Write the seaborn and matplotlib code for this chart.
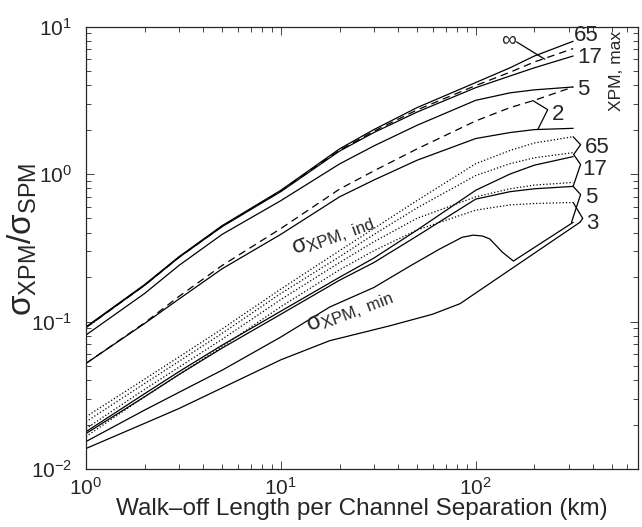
import numpy as np
import pandas as pd
import matplotlib
matplotlib.use("Agg")
import matplotlib.pyplot as plt
import seaborn as sns

# ---------------- data ----------------
x_main = [1, 2, 3, 5, 10, 20, 30, 50, 100, 150, 200, 316]

# upper group: sigma_XPM,max
max_65 = [0.092, 0.178, 0.275, 0.447, 0.776, 1.48, 2.0, 2.82, 4.17, 5.25, 6.31, 7.94]
max_inf = [0.091, 0.176, 0.272, 0.442, 0.767, 1.45, 1.95, 2.72, 3.98, 4.9, 5.75, 7.08]
max_17 = [0.091, 0.176, 0.272, 0.44, 0.76, 1.43, 1.91, 2.63, 3.85, 4.62, 5.25, 6.31]
max_5 = [0.081, 0.155, 0.24, 0.39, 0.66, 1.17, 1.55, 2.14, 3.16, 3.55, 3.72, 3.89]
max_2_dash = [0.052, 0.098, 0.148, 0.24, 0.427, 0.79, 1.05, 1.48, 2.29, 2.82, 3.16, 3.89]
max_2 = [0.052, 0.097, 0.142, 0.228, 0.39, 0.70, 0.91, 1.24, 1.74, 1.91, 2.0, 2.04]

# lower group: sigma_XPM,ind (dotted)
ind_65 = [0.0226, 0.0407, 0.0575, 0.0891, 0.166, 0.302, 0.427, 0.661, 1.175, 1.445, 1.622, 1.79]
ind_17 = [0.0209, 0.038, 0.0537, 0.0832, 0.155, 0.275, 0.389, 0.589, 0.977, 1.175, 1.288, 1.396]
ind_5 = [0.0188, 0.0347, 0.049, 0.0759, 0.141, 0.251, 0.347, 0.501, 0.70, 0.794, 0.841, 0.877]
ind_3 = [0.0166, 0.0309, 0.0437, 0.0676, 0.126, 0.224, 0.302, 0.417, 0.569, 0.617, 0.631, 0.641]

# lower group: sigma_XPM,min (solid)
min_65 = [0.0179, 0.0324, 0.0457, 0.0692, 0.1175, 0.1995, 0.269, 0.417, 0.776, 1.0, 1.148, 1.312]
min_17 = [0.0174, 0.0309, 0.0437, 0.0661, 0.112, 0.1905, 0.251, 0.380, 0.676, 0.759, 0.794, 0.824]

x_min_5 = [1, 2, 3, 5, 10, 17.8, 30, 45.8, 65, 85, 97, 108, 118, 137, 156, 316]
min_5 = [0.01535, 0.0251, 0.0331, 0.0468, 0.0785, 0.1253, 0.170, 0.237, 0.309, 0.372,
         0.385, 0.380, 0.363, 0.295, 0.257, 0.470]

x_min_3 = [1, 2, 3, 5, 10, 17.8, 36, 60, 83, 342]
min_3 = [0.01377, 0.0204, 0.0257, 0.0355, 0.055, 0.0741, 0.0933, 0.112, 0.132, 0.470]

# ---------------- style ----------------
sns.set_style("ticks")
plt.rcParams["font.family"] = ["Liberation Sans", "DejaVu Sans"]
plt.rcParams["mathtext.fontset"] = "custom"
plt.rcParams["mathtext.rm"] = "Liberation Sans"
plt.rcParams["mathtext.it"] = "Liberation Sans:italic"
plt.rcParams["mathtext.bf"] = "Liberation Sans:bold"
plt.rcParams["mathtext.sf"] = "Liberation Sans"

W, H = 642, 527
fig = plt.figure(figsize=(W / 100, H / 100), dpi=100)
ax = fig.add_axes([86 / W, 1 - 469 / H, (638 - 86) / W, (469 - 26.5) / H])
ax.set_xscale("log")
ax.set_yscale("log")

LW = 0.9
series = [
    (x_main, max_65, "-"),
    (x_main, max_inf, (0, (6, 4))),
    (x_main, max_17, "-"),
    (x_main, max_5, "-"),
    (x_main, max_2_dash, (0, (6, 4))),
    (x_main, max_2, "-"),
    (x_main, ind_65, ":"),
    (x_main, ind_17, ":"),
    (x_main, ind_5, ":"),
    (x_main, ind_3, ":"),
    (x_main, min_65, "-"),
    (x_main, min_17, "-"),
    (x_min_5, min_5, "-"),
    (x_min_3, min_3, "-"),
]
for xs, ys, ls in series:
    df = pd.DataFrame({"x": xs, "y": ys})
    sns.lineplot(data=df, x="x", y="y", ax=ax, color="black", lw=LW,
                 linestyle=ls, estimator=None, sort=False)

ax.set_xlim(1, 680)
ax.set_ylim(1e-2, 1e1)

# ---------------- annotations ----------------
def poly(xs, ys):
    ax.plot(xs, ys, color="black", lw=LW)

FS = 16
# upper group labels
ax.text(318, 8.75, "65", fontsize=FS, ha="left", va="center")
ax.text(330, 6.2, "17", fontsize=FS, ha="left", va="center")
ax.text(330, 3.72, "5", fontsize=FS, ha="left", va="center")
ax.text(245, 2.52, "2", fontsize=FS, ha="left", va="center")
ax.text(147, 7.98, "∞", fontsize=15, ha="center", va="center")
poly([162, 226], [7.86, 6.0])
poly([196, 234, 208], [3.15, 2.73, 2.0])
ax.text(528, 5.0, "XPM, max", fontsize=12.5, rotation=90, ha="center", va="center")

# lower group labels
ax.text(362, 1.51, "65", fontsize=FS, ha="left", va="center")
ax.text(350, 1.07, "17", fontsize=FS, ha="left", va="center")
ax.text(362, 0.69, "5", fontsize=FS, ha="left", va="center")
ax.text(367, 0.459, "3", fontsize=FS, ha="left", va="center")
poly([316, 345, 318], [1.79, 1.58, 1.355])
poly([318, 345, 316], [1.355, 1.16, 0.824])
poly([316, 345, 310], [0.824, 0.726, 0.47])
poly([316, 354, 342], [0.641, 0.50, 0.47])

ax.text(18.5, 0.378, r"σ$_{\rm XPM,\ ind}$", fontsize=17, rotation=20,
        ha="center", va="center")
ax.text(22.6, 0.116, r"σ$_{\rm XPM,\ min}$", fontsize=17, rotation=21,
        ha="center", va="center")

# ---------------- axes cosmetics ----------------
ax.set_xlabel("Walk\u2013off Length per Channel Separation (km)", fontsize=17.5, labelpad=-1)
ax.set_ylabel(r"σ$_{\rm XPM}$/σ$_{\rm SPM}$", fontsize=24)
ax.yaxis.set_label_coords(-0.085, 0.52)
ax.tick_params(which="both", direction="in", top=True, right=True, width=0.6)
ax.tick_params(which="major", length=6, labelsize=15)
ax.tick_params(which="minor", length=3.5)
ax.tick_params(axis="y", which="major", pad=10)
ax.tick_params(axis="x", which="major", pad=6)
for s in ax.spines.values():
    s.set_linewidth(0.9)
    s.set_visible(True)

fig.savefig("out.png", dpi=100)
